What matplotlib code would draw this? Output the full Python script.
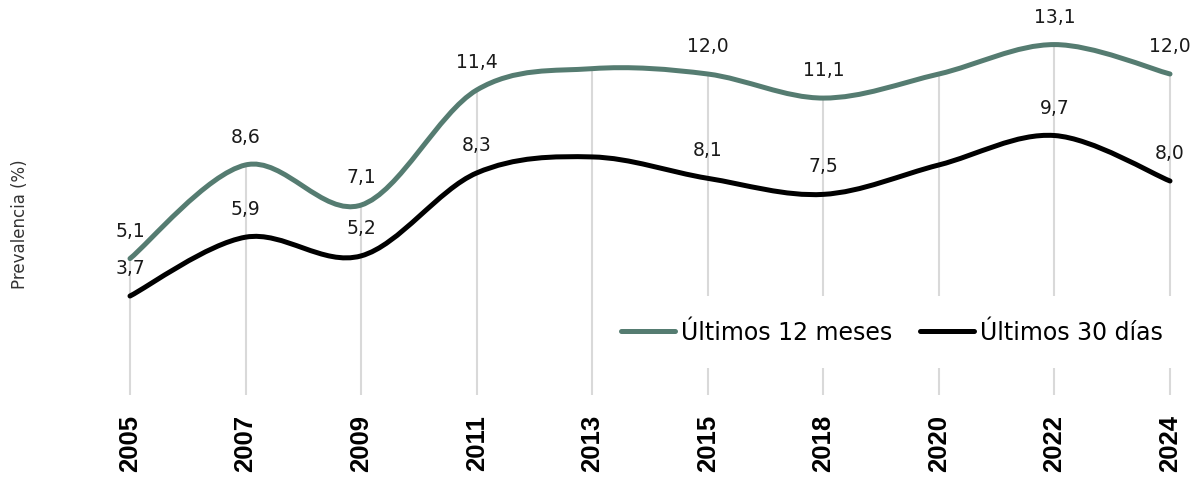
import numpy as np
import matplotlib
matplotlib.use("Agg")
import matplotlib.pyplot as plt
from matplotlib.path import Path
from matplotlib.patches import PathPatch
from matplotlib.lines import Line2D

years = ["2005", "2007", "2009", "2011", "2013", "2015", "2018", "2020", "2022", "2024"]
ult_12m = [5.1, 8.6, 7.1, 11.4, 12.2, 12.0, 11.1, 12.0, 13.1, 12.0]
ult_30d = [3.7, 5.9, 5.2, 8.3, 8.9, 8.1, 7.5, 8.6, 9.7, 8.0]
labeled = [0, 1, 2, 3, 5, 6, 8, 9]   # puntos con etiqueta visible

green = "#557C71"
black = "#000000"

plt.rcParams["font.family"] = "DejaVu Sans"


def smooth_path(x, y):
    # curva suavizada tipo Excel (Bezier entre puntos consecutivos)
    n = len(x)
    verts = [(x[0], y[0])]
    codes = [Path.MOVETO]
    for i in range(n - 1):
        xp, yp = (x[i - 1], y[i - 1]) if i > 0 else (x[i], y[i])
        xn, yn = (x[i + 2], y[i + 2]) if i + 2 < n else (x[i + 1], y[i + 1])
        c1 = (x[i] + (x[i + 1] - xp) / 6, y[i] + (y[i + 1] - yp) / 6)
        c2 = (x[i + 1] - (xn - x[i]) / 6, y[i + 1] - (yn - y[i]) / 6)
        verts += [c1, c2, (x[i + 1], y[i + 1])]
        codes += [Path.CURVE4] * 3
    return Path(verts, codes)


W, H = 1194, 481
fig = plt.figure(figsize=(W / 100, H / 100), dpi=100)
ax_left, ax_right, ax_top, ax_bot = 100, 1190, 10, 396
ax = fig.add_axes([ax_left / W, 1 - ax_bot / H, (ax_right - ax_left) / W, (ax_bot - ax_top) / H])

step = 115.6
ax.set_xlim(-(130 - ax_left) / step, 9 + (ax_right - 1170) / step)
ax.set_ylim(0, (ax_bot - ax_top) / 26.75)

x = np.arange(len(years))

# lineas de caida
tops = np.maximum(ult_12m, ult_30d)
ax.vlines(x, 0, tops, color="#D9D9D9", lw=1.5, zorder=1)

for vals, col in [(ult_12m, green), (ult_30d, black)]:
    p = PathPatch(smooth_path(x, vals), fill=False, edgecolor=col, lw=3.6,
                  capstyle="round", joinstyle="round", zorder=3, clip_on=False)
    ax.add_patch(p)
    for i in labeled:
        ax.annotate(f"{vals[i]:.1f}".replace(".", ","), (x[i], vals[i]),
                    xytext=(0, 20.5), textcoords="offset points",
                    ha="center", va="center", fontsize=13.5, color="#1a1a1a",
                    zorder=4, annotation_clip=False)

ax.set_xticks(x)
ax.set_xticklabels(years, rotation=90, fontsize=18.5, fontweight="bold",
                   family="Liberation Sans")
ax.tick_params(axis="x", length=0, pad=13.5)
ax.set_yticks([])
for s in ax.spines.values():
    s.set_visible(False)

ax.set_ylabel("Prevalencia (%)", fontsize=12, color="#333333")
ax.yaxis.set_label_coords((29 - ax_left) / (ax_right - ax_left), (ax_bot - 224) / (ax_bot - ax_top))

handles = [Line2D([], [], color=green, lw=3.6, solid_capstyle="round"),
           Line2D([], [], color=black, lw=3.6, solid_capstyle="round")]
leg = fig.legend(handles, ["Últimos 12 meses", "Últimos 30 días"], loc="center",
                 bbox_to_anchor=(892 / W, 1 - 333 / H), ncol=2, fontsize=17,
                 frameon=True, facecolor="white", edgecolor="none", framealpha=1,
                 fancybox=False, handlelength=2.3, handletextpad=0.25,
                 columnspacing=1.15, borderpad=1.0)
leg.set_zorder(5)

fig.savefig("out.png", dpi=100)
